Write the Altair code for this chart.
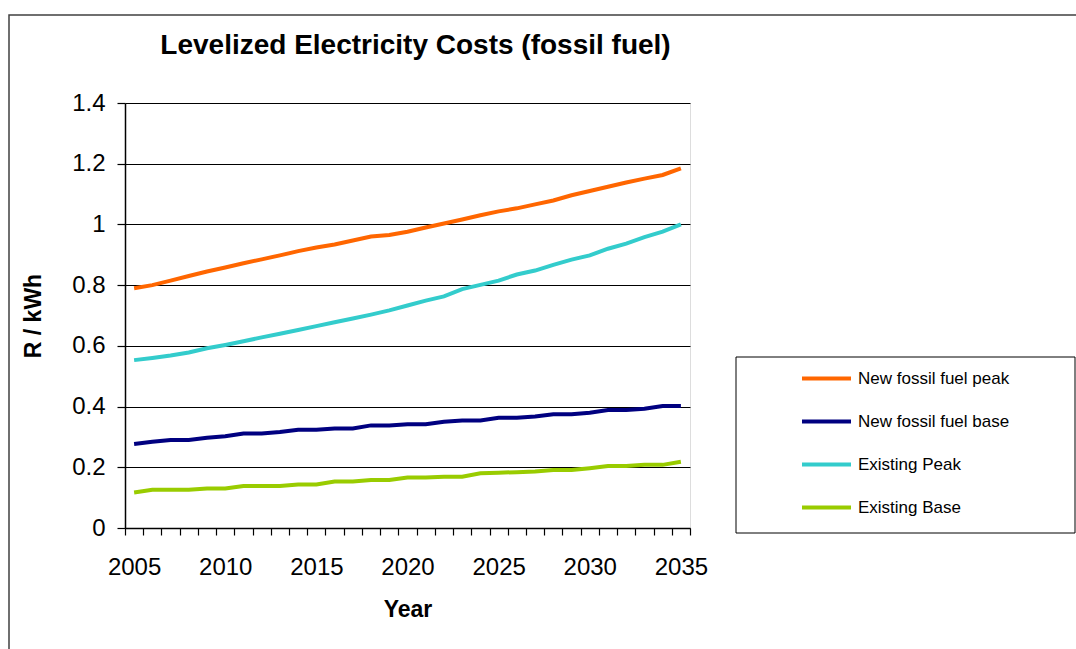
import altair as alt
import pandas as pd

# Levelized electricity cost projections (R / kWh), 2005-2035
years = list(range(2005, 2036))

new_fossil_peak = [0.79, 0.80, 0.815, 0.83, 0.845, 0.858, 0.872, 0.885, 0.898, 0.912,
                   0.924, 0.934, 0.947, 0.96, 0.965, 0.976, 0.99, 1.003, 1.016, 1.03,
                   1.043, 1.053, 1.066, 1.079, 1.096, 1.11, 1.124, 1.138, 1.151, 1.163, 1.185]
new_fossil_base = [0.277, 0.284, 0.29, 0.29, 0.297, 0.302, 0.311, 0.311, 0.316, 0.324,
                   0.324, 0.328, 0.328, 0.338, 0.338, 0.342, 0.342, 0.35, 0.354, 0.354,
                   0.363, 0.363, 0.367, 0.375, 0.375, 0.38, 0.389, 0.389, 0.393, 0.402, 0.402]
existing_peak = [0.553, 0.56, 0.568, 0.578, 0.592, 0.603, 0.615, 0.628, 0.64, 0.652,
                 0.665, 0.678, 0.69, 0.703, 0.717, 0.733, 0.749, 0.763, 0.787, 0.801,
                 0.815, 0.835, 0.848, 0.867, 0.884, 0.898, 0.92, 0.937, 0.958, 0.976, 1.0]
existing_base = [0.117, 0.126, 0.126, 0.126, 0.13, 0.13, 0.138, 0.138, 0.138, 0.143,
                 0.143, 0.153, 0.153, 0.158, 0.158, 0.166, 0.166, 0.169, 0.169, 0.18,
                 0.182, 0.184, 0.186, 0.191, 0.191, 0.197, 0.204, 0.204, 0.208, 0.208, 0.218]

series_names = ["New fossil fuel peak", "New fossil fuel base", "Existing Peak", "Existing Base"]
series_colors = ["#FF6600", "#000080", "#33CCCC", "#99CC00"]
series_values = [new_fossil_peak, new_fossil_base, existing_peak, existing_base]

y_ticks = [0, 0.2, 0.4, 0.6, 0.8, 1.0, 1.2, 1.4]
# category boundaries: ticks sit between years, labels at every fifth year
x_ticks = [years[0] - 0.5 + i for i in range(len(years) + 1)]

rows = []
for name, vals in zip(series_names, series_values):
    for yr, v in zip(years, vals):
        rows.append({"Year": yr, "Series": name, "Cost": v})
df = pd.DataFrame(rows)

FONT = "Liberation Sans"
W, H = 565, 425
band = W / len(years)

lines = alt.Chart(df).mark_line(strokeWidth=4, clip=False).encode(
    x=alt.X("Year:Q",
            scale=alt.Scale(domain=[years[0] - 0.5, years[-1] + 0.5], nice=False, zero=False),
            axis=alt.Axis(values=x_ticks, grid=False, title="Year",
                          labelExpr="(datum.value + 0.5) % 5 == 0 ? format(datum.value + 0.5, 'd') : ''",
                          labelOffset=band / 2, labelOverlap=False, labelFlush=False,
                          labelFont=FONT, labelFontSize=24, labelColor="#000",
                          labelPadding=20,
                          titleFont=FONT, titleFontSize=23, titleFontWeight="bold",
                          titleColor="#000", titlePadding=19,
                          tickColor="#000", tickSize=7, tickWidth=1.2,
                          domainColor="#000", domainWidth=1.5)),
    y=alt.Y("Cost:Q",
            scale=alt.Scale(domain=[0, 1.4], nice=False),
            axis=alt.Axis(values=y_ticks, format="~g", title="R / kWh",
                          grid=True, gridColor="#000", gridWidth=1, gridOpacity=1,
                          labelFont=FONT, labelFontSize=24, labelColor="#000",
                          labelPadding=12,
                          titleFont=FONT, titleFontSize=23, titleFontWeight="bold",
                          titleColor="#000", titlePadding=26,
                          tickColor="#000", tickSize=8, tickWidth=1.2,
                          domainColor="#000", domainWidth=1.5)),
    color=alt.Color("Series:N",
                    scale=alt.Scale(domain=series_names, range=series_colors),
                    sort=series_names,
                    legend=alt.Legend(title=None, orient="none",
                                      legendX=675, legendY=249,
                                      symbolType="stroke", symbolSize=2401,
                                      symbolStrokeWidth=4, symbolOpacity=1,
                                      labelFont=FONT, labelFontSize=17, labelColor="#000",
                                      labelOffset=5, rowPadding=8, labelLimit=300)),
)

# outer chart frame and legend box
outer_frame = alt.Chart(alt.Data(values=[{}])).mark_rect(
    filled=False, stroke="#404040", strokeWidth=1.5, clip=False
).encode(x=alt.value(-116), x2=alt.value(980), y=alt.value(-88), y2=alt.value(570))

legend_box = alt.Chart(alt.Data(values=[{}])).mark_rect(
    filled=False, stroke="#000", strokeWidth=1, clip=False
).encode(x=alt.value(611), x2=alt.value(950), y=alt.value(254), y2=alt.value(430))

chart = alt.layer(outer_frame, lines, legend_box).properties(
    width=W, height=H,
    title=alt.TitleParams("Levelized Electricity Costs (fossil fuel)",
                          font=FONT, fontSize=28, fontWeight="bold", color="#000",
                          anchor="middle", frame="group", baseline="alphabetic",
                          dx=8, offset=-67.75),
    autosize=alt.AutoSizeParams(type="none"),
    padding={"left": 125, "top": 103, "right": 386, "bottom": 121},
).configure_view(stroke="#8c8c8c", strokeWidth=2).configure(background="white")

chart.save("out.html", embed_options={"renderer": "svg", "actions": False})
